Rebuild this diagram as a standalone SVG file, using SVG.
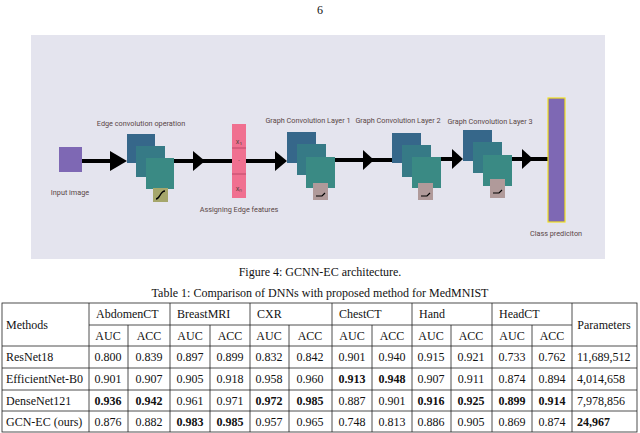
<svg xmlns="http://www.w3.org/2000/svg" width="640" height="433" viewBox="0 0 640 433">
<style>
.lbl{font-family:Roboto,"Liberation Sans",sans-serif;font-size:7.3px;fill:#5a4646;text-anchor:middle}
.t{font-family:"Liberation Serif",serif;font-size:12px;fill:#111;text-anchor:middle}
.tl{font-family:"Liberation Serif",serif;font-size:12px;fill:#111}
.b{font-weight:bold}
.s1{fill:#36678a}.s2{fill:#367a86}.s3{fill:#3a8a84}
.gl{stroke:#222;stroke-width:0.8}
.ln{stroke:#000;stroke-width:4}
.ah{fill:#000}
</style>
<rect width="640" height="433" fill="#fff"/>
<text x="320" y="14" class="t">6</text>
<rect x="31" y="35" width="574" height="224" fill="#e4e4ee"/>
<g id="connectors">
<line x1="82" y1="161" x2="115" y2="161" class="ln"/><polygon points="110,151 127,161 110,171" class="ah"/>
<line x1="174" y1="161" x2="232" y2="161" class="ln"/><polygon points="193,151 205,161 193,171" class="ah"/>
<line x1="246" y1="161" x2="280" y2="161" class="ln"/><polygon points="275,151 287,161 275,171" class="ah"/>
<line x1="335" y1="160" x2="393" y2="160" class="ln"/><polygon points="363,150 374,160 363,170" class="ah"/>
<line x1="441" y1="159" x2="458" y2="159" class="ln"/><polygon points="452,149 463,159 452,169" class="ah"/>
<line x1="512" y1="159" x2="548" y2="159" class="ln"/><polygon points="522,149 533,159 522,169" class="ah"/>
</g>
<g id="input"><rect x="59" y="147" width="23" height="25" fill="#7e68b4"/><text x="70" y="195" class="lbl">Input image</text></g>
<g id="edgeconv">
<text x="141" y="126" class="lbl">Edge convolution operation</text>
<rect x="127" y="134" width="28" height="29" class="s1"/><rect x="136" y="146" width="29" height="31" class="s2"/><rect x="146" y="158" width="28" height="31" class="s3"/>
<rect x="153" y="188" width="15" height="14" fill="#a5a66b"/><path d="M156,199 C160,199 160,191 165,191" fill="none" stroke="#000" stroke-width="1.3"/>
</g>
<g id="edgefeat">
<rect x="232" y="124" width="14" height="74" fill="#f07090"/>
<line x1="232" y1="148" x2="246" y2="148" stroke="#b04060" stroke-width="0.8"/><line x1="232" y1="174" x2="246" y2="174" stroke="#b04060" stroke-width="0.8"/>
<text x="239" y="144" class="lbl" font-size="4">x₁</text><text x="239" y="161" class="lbl" font-size="4">.</text><text x="239" y="191" class="lbl" font-size="4">xₙ</text>
<text x="239" y="212" class="lbl">Assigning Edge features</text>
</g>
<g id="gcl1">
<text x="308" y="123" class="lbl">Graph Convolution Layer 1</text>
<rect x="287" y="132" width="29" height="31" class="s1"/><rect x="297" y="144" width="29" height="31" class="s2"/><rect x="306" y="157" width="29" height="31" class="s3"/>
<rect x="313" y="183" width="15" height="17" fill="#b09a9a"/><path d="M316,196 L322,196 L325,193" fill="none" stroke="#000" stroke-width="1.2"/>
</g>
<g id="gcl2">
<text x="398" y="123" class="lbl">Graph Convolution Layer 2</text>
<rect x="392" y="133" width="29" height="30" class="s1"/><rect x="402" y="145" width="29" height="32" class="s2"/><rect x="412" y="157" width="29" height="31" class="s3"/>
<rect x="418" y="183" width="15" height="17" fill="#b09a9a"/><path d="M421,196 L427,196 L430,193" fill="none" stroke="#000" stroke-width="1.2"/>
</g>
<g id="gcl3">
<text x="490" y="124" class="lbl">Graph Convolution Layer 3</text>
<rect x="463" y="130" width="29" height="31" class="s1"/><rect x="473" y="142" width="29" height="31" class="s2"/><rect x="483" y="155" width="29" height="31" class="s3"/>
<rect x="490" y="179" width="15" height="19" fill="#b09a9a"/><path d="M493,193 L499,193 L502,190" fill="none" stroke="#000" stroke-width="1.2"/>
</g>
<g id="classpred">
<rect x="548" y="98" width="17" height="124" fill="#7e68b4" stroke="#f0e020" stroke-width="1.2"/>
<text x="556" y="236" class="lbl">Class prediciton</text>
</g>
<text x="320" y="276" class="t" font-size="13.5">Figure 4:  GCNN-EC architecture.</text>
<text x="320" y="297" class="t" font-size="13.5">Table 1: Comparison of DNNs with proposed method for MedMNIST</text>
<g id="table">
<g class="gl" fill="none">
<rect x="2" y="303" width="635" height="129"/>
<line x1="89" y1="325" x2="572" y2="325"/>
<line x1="2" y1="346" x2="637" y2="346"/><line x1="2" y1="368" x2="637" y2="368"/><line x1="2" y1="390" x2="637" y2="390"/><line x1="2" y1="411" x2="637" y2="411"/>
<line x1="89" y1="303" x2="89" y2="432"/><line x1="170" y1="303" x2="170" y2="432"/><line x1="250" y1="303" x2="250" y2="432"/><line x1="332" y1="303" x2="332" y2="432"/><line x1="412" y1="303" x2="412" y2="432"/><line x1="492" y1="303" x2="492" y2="432"/><line x1="572" y1="303" x2="572" y2="432"/>
<line x1="128" y1="325" x2="128" y2="432"/><line x1="210" y1="325" x2="210" y2="432"/><line x1="289" y1="325" x2="289" y2="432"/><line x1="372" y1="325" x2="372" y2="432"/><line x1="451" y1="325" x2="451" y2="432"/><line x1="532" y1="325" x2="532" y2="432"/>
</g>
<text x="6" y="329" class="tl">Methods</text>
<text x="96" y="318" class="tl">AbdomenCT</text><text x="177" y="318" class="tl">BreastMRI</text><text x="257" y="318" class="tl">CXR</text><text x="339" y="318" class="tl">ChestCT</text><text x="419" y="318" class="tl">Hand</text><text x="499" y="318" class="tl">HeadCT</text>
<text x="604" y="329" class="t">Parameters</text>
<g class="t">
<text x="108" y="340">AUC</text><text x="149" y="340">ACC</text><text x="190" y="340">AUC</text><text x="230" y="340">ACC</text><text x="269" y="340">AUC</text><text x="310" y="340">ACC</text><text x="352" y="340">AUC</text><text x="392" y="340">ACC</text><text x="431" y="340">AUC</text><text x="471" y="340">ACC</text><text x="512" y="340">AUC</text><text x="552" y="340">ACC</text>
</g>
<g class="tl"><text x="6" y="361">ResNet18</text><text x="6" y="383">EfficientNet-B0</text><text x="6" y="405">DenseNet121</text><text x="6" y="426">GCN-EC (ours)</text>
<text x="577" y="361">11,689,512</text><text x="577" y="383">4,014,658</text><text x="577" y="405">7,978,856</text><text x="577" y="426" class="b">24,967</text></g>
<g class="t">
<text x="108" y="361">0.800</text><text x="149" y="361">0.839</text><text x="190" y="361">0.897</text><text x="230" y="361">0.899</text><text x="269" y="361">0.832</text><text x="310" y="361">0.842</text><text x="352" y="361">0.901</text><text x="392" y="361">0.940</text><text x="431" y="361">0.915</text><text x="471" y="361">0.921</text><text x="512" y="361">0.733</text><text x="552" y="361">0.762</text>
<text x="108" y="383">0.901</text><text x="149" y="383">0.907</text><text x="190" y="383">0.905</text><text x="230" y="383">0.918</text><text x="269" y="383">0.958</text><text x="310" y="383">0.960</text><text x="352" y="383" class="b">0.913</text><text x="392" y="383" class="b">0.948</text><text x="431" y="383">0.907</text><text x="471" y="383">0.911</text><text x="512" y="383">0.874</text><text x="552" y="383">0.894</text>
<text x="108" y="405" class="b">0.936</text><text x="149" y="405" class="b">0.942</text><text x="190" y="405">0.961</text><text x="230" y="405">0.971</text><text x="269" y="405" class="b">0.972</text><text x="310" y="405" class="b">0.985</text><text x="352" y="405">0.887</text><text x="392" y="405">0.901</text><text x="431" y="405" class="b">0.916</text><text x="471" y="405" class="b">0.925</text><text x="512" y="405" class="b">0.899</text><text x="552" y="405" class="b">0.914</text>
<text x="108" y="426">0.876</text><text x="149" y="426">0.882</text><text x="190" y="426" class="b">0.983</text><text x="230" y="426" class="b">0.985</text><text x="269" y="426">0.957</text><text x="310" y="426">0.965</text><text x="352" y="426">0.748</text><text x="392" y="426">0.813</text><text x="431" y="426">0.886</text><text x="471" y="426">0.905</text><text x="512" y="426">0.869</text><text x="552" y="426">0.874</text>
</g>
</g>
</svg>
